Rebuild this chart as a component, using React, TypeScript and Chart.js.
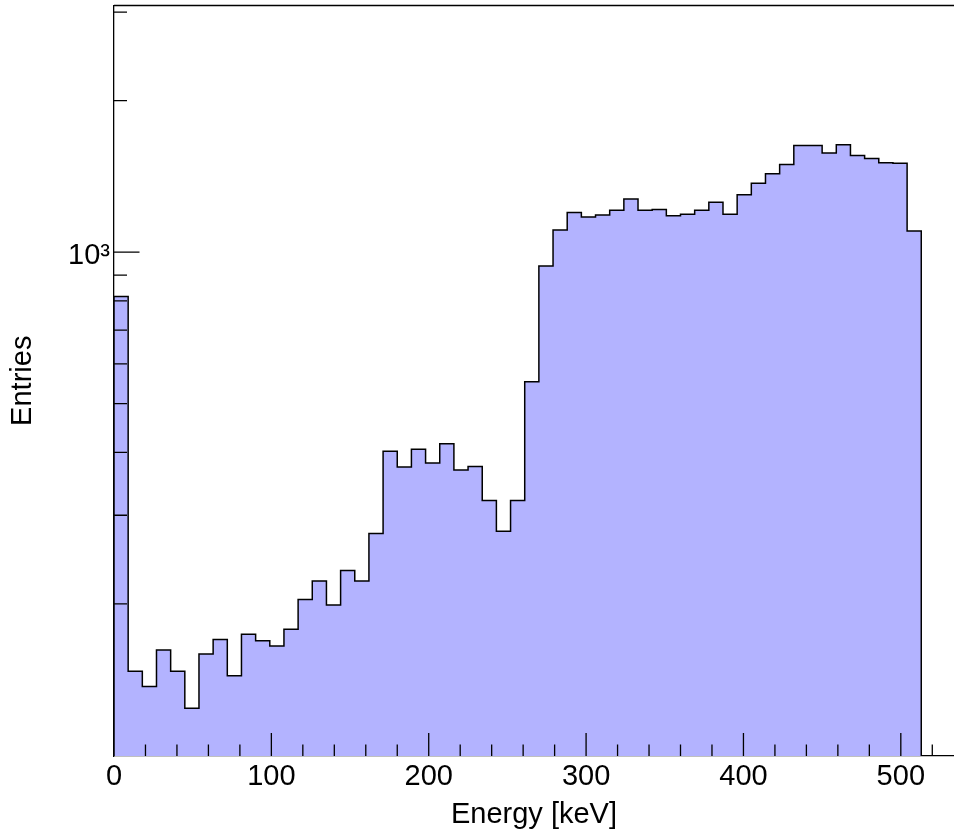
import React, { useEffect, useRef } from 'react';
import { Chart, registerables } from 'chart.js';

Chart.register(...registerables);

// Histogram: 57 bins of 9 keV, starting at 0 keV
const binWidthKeV = 9;
const entries = [
  816, 147, 137, 162, 147, 124, 159, 170, 144, 174, 169, 165, 178,
  204, 222, 199, 233, 222, 276, 402, 374, 406, 381, 416, 369, 375, 321, 279, 321,
  553, 939, 1107, 1199, 1174, 1185, 1212, 1275, 1212, 1215, 1181, 1190, 1212, 1257,
  1190, 1300, 1371, 1431, 1494, 1629, 1629, 1575, 1634, 1556, 1535, 1505, 1503, 1102,
];
const binLowEdges = entries.map((_, i) => i * binWidthKeV);

const xMin = 0;
const xMax = 533.8;
const yMin = 99.7;
const yMax = 3092;

const xLabelTicks = [0, 100, 200, 300, 400, 500];
const xMajorTicks = [100, 200, 300, 400, 500];
const xMinorTicks = [20, 40, 60, 80, 120, 140, 160, 180, 220, 240, 260, 280, 320, 340, 360, 380, 420, 440, 460, 480, 520];
const yMajorTicks = [1000];
const yMinorTicks = [200, 300, 400, 500, 600, 700, 800, 900, 2000, 3000];

const FONT = "'Liberation Sans', Arial, Helvetica, sans-serif";

function histogramOutline() {
  const pts: { x: number; y: number }[] = [{ x: binLowEdges[0], y: yMin }];
  entries.forEach((v, i) => {
    const lo = binLowEdges[i];
    const hi = lo + binWidthKeV;
    pts.push({ x: lo, y: v });
    pts.push({ x: hi, y: v });
  });
  const lastHi = binLowEdges[binLowEdges.length - 1] + binWidthKeV;
  pts.push({ x: lastHi, y: yMin });
  return pts;
}

const frameTicks = {
  id: 'frameTicks',
  afterDatasetsDraw(chart: any) {
    const { ctx, chartArea, scales } = chart;
    const { left, right, top, bottom } = chartArea;
    const x = scales.x;
    const y = scales.y;
    ctx.save();
    ctx.strokeStyle = '#000';
    ctx.lineWidth = 1.3;
    ctx.beginPath();
    ctx.moveTo(left, top);
    ctx.lineTo(right, top);
    xMajorTicks.forEach((v) => {
      const px = x.getPixelForValue(v);
      ctx.moveTo(px, bottom);
      ctx.lineTo(px, bottom - 23);
    });
    xMinorTicks.forEach((v) => {
      const px = x.getPixelForValue(v);
      ctx.moveTo(px, bottom);
      ctx.lineTo(px, bottom - 11.5);
    });
    yMajorTicks.forEach((v) => {
      const py = y.getPixelForValue(v);
      ctx.moveTo(left, py);
      ctx.lineTo(left + 25.5, py);
    });
    yMinorTicks.forEach((v) => {
      const py = y.getPixelForValue(v);
      ctx.moveTo(left, py);
      ctx.lineTo(left + 13, py);
    });
    ctx.stroke();
    ctx.restore();
  },
};

export default function App() {
  const ref = useRef<HTMLCanvasElement | null>(null);

  useEffect(() => {
    if (!ref.current) return;
    Chart.defaults.font.family = FONT;
    Chart.defaults.color = '#000';
    const chart = new Chart(ref.current, {
      type: 'line',
      data: {
        datasets: [
          {
            label: 'Entries',
            data: histogramOutline(),
            borderColor: '#000',
            borderWidth: 1.5,
            backgroundColor: 'rgb(179,179,255)',
            fill: 'start',
            pointRadius: 0,
            tension: 0,
          },
        ],
      },
      options: {
        animation: false,
        responsive: false,
        maintainAspectRatio: false,
        events: [],
        layout: { padding: { top: 5.5, right: 0, bottom: 0, left: 0 } },
        plugins: {
          legend: { display: false },
          tooltip: { enabled: false },
        },
        scales: {
          x: {
            type: 'linear',
            min: xMin,
            max: xMax,
            afterBuildTicks: (scale: any) => {
              scale.ticks = xLabelTicks.map((v) => ({ value: v }));
            },
            afterFit: (scale: any) => {
              scale.height = 82;
              scale.paddingLeft = 0;
              scale.paddingRight = 0;
            },
            ticks: {
              autoSkip: false,
              maxRotation: 0,
              padding: 4,
              font: { size: 29, family: FONT },
              color: '#000',
              callback: (v: any) => String(v),
            },
            grid: { display: false, drawTicks: false },
            border: { display: true, color: '#000', width: 1.3 },
            title: {
              display: true,
              text: 'Energy [keV]',
              font: { size: 29, family: FONT },
              color: '#000',
              padding: { top: 0, bottom: 5.6 },
            },
          },
          y: {
            type: 'logarithmic',
            min: yMin,
            max: yMax,
            afterBuildTicks: (scale: any) => {
              scale.ticks = yMajorTicks.map((v) => ({ value: v }));
            },
            afterFit: (scale: any) => {
              scale.width = 114;
              scale.paddingTop = 0;
              scale.paddingBottom = 0;
            },
            ticks: {
              autoSkip: false,
              padding: 4,
              labelOffset: 4,
              font: { size: 29, family: FONT },
              color: '#000',
              callback: (v: any) => (Number(v) === 1000 ? '10³' : ''),
            },
            grid: { display: false, drawTicks: false },
            border: { display: true, color: '#000', width: 1.3 },
            title: {
              display: true,
              text: 'Entries',
              font: { size: 29, family: FONT },
              color: '#000',
              padding: { top: 5.1, bottom: 0 },
            },
          },
        },
      },
      plugins: [frameTicks],
    });
    return () => chart.destroy();
  }, []);

  return (
    <div style={{ position: 'fixed', left: 0, top: 0, width: 954, height: 838, overflow: 'hidden', background: '#fff' }}>
      <canvas ref={ref} width={954} height={838} style={{ display: 'block', width: 954, height: 838 }} />
    </div>
  );
}
